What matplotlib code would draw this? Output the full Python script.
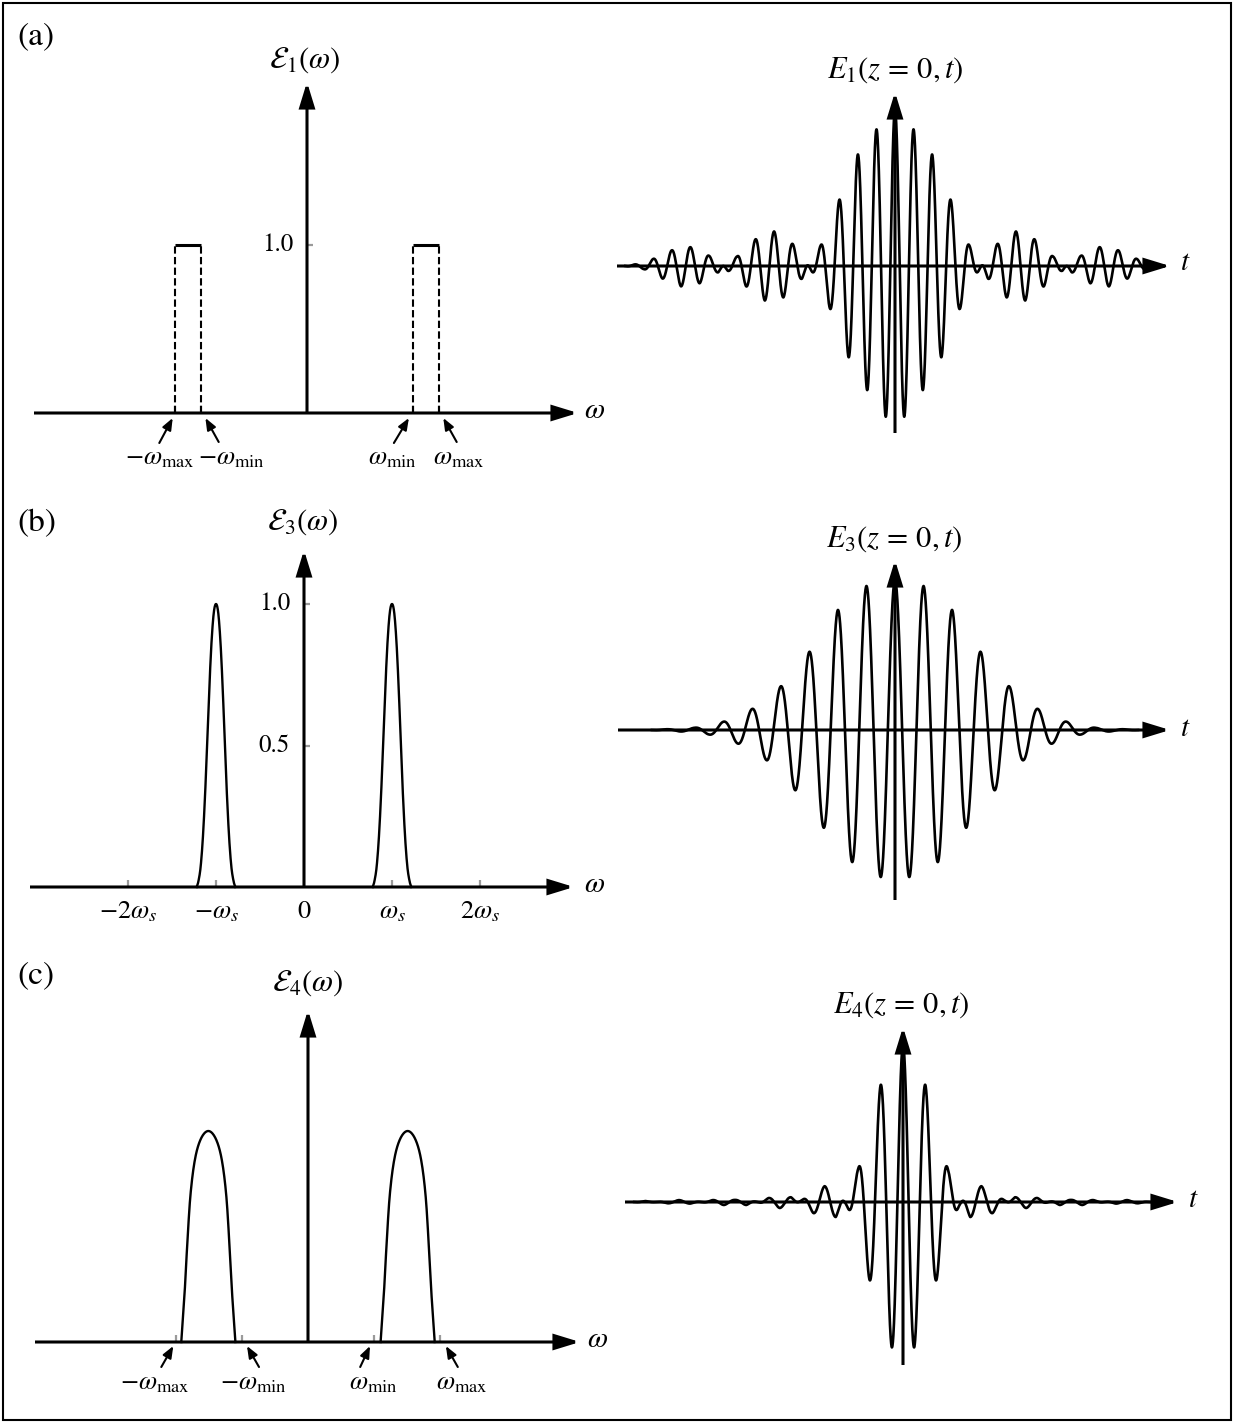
import numpy as np
import matplotlib
matplotlib.use("Agg")
import matplotlib.pyplot as plt
from matplotlib.patches import FancyArrowPatch, Rectangle, ArrowStyle
from matplotlib.transforms import ScaledTranslation

plt.rcParams["mathtext.fontset"] = "stix"
plt.rcParams["font.family"] = ["STIXGeneral", "DejaVu Serif"]

# ======================= data =======================
# (a) flat-top band spectrum, frequency in units of omega_max
a_band = [0.8, 1.0]                      # omega_min, omega_max
a_level = 1.0
a_ticks = [-1.0, -0.8, 0.8, 1.0]
a_tick_labels = [r"$-\omega_{\max}$", r"$-\omega_{\min}$", r"$\omega_{\min}$", r"$\omega_{\max}$"]
a_yticks = [1.0]
a_ytick_labels = ["1.0"]
# signed envelope of E1(z=0,t) at successive half-periods from t = 0
a_env = [1.0, 0.96, 0.87, 0.79, 0.71, 0.58, 0.42, 0.27, 0.13, 0.03,
         -0.08, -0.14, -0.20, -0.22, -0.22, -0.17, -0.13, -0.06, -0.03, 0.04,
         0.065, 0.11, 0.12, 0.13, 0.10, 0.08, 0.045, 0.02, 0.01, 0.0]

# (b) narrow peaks at +-omega_s, frequency in units of omega_s
b_centers = [-1.0, 1.0]
b_offsets = [0.0, 0.025, 0.05, 0.075, 0.10, 0.125, 0.15, 0.175, 0.20, 0.22]
b_values = [1.0, 0.97, 0.87, 0.71, 0.51, 0.32, 0.17, 0.07, 0.02, 0.0]
b_ticks = [-2, -1, 0, 1, 2]
b_tick_labels = [r"$-2\omega_s$", r"$-\omega_s$", "0", r"$\omega_s$", r"$2\omega_s$"]
b_yticks = [0.5, 1.0]
b_ytick_labels = ["0.5", "1.0"]
b_env = [1.0, 0.98, 0.96, 0.88, 0.80, 0.65, 0.52, 0.40, 0.29, 0.20,
         0.14, 0.09, 0.055, 0.03, 0.015, 0.01, 0.005, 0.0]

# (c) rounded band spectrum, frequency in units of omega_max
c_centers = [-0.755, 0.755]
c_offsets = [0.0, 0.055, 0.10, 0.135, 0.16, 0.18, 0.205]
c_values = [1.0, 0.965, 0.87, 0.70, 0.46, 0.23, 0.0]
c_ticks = [-1.0, -0.5, 0.5, 1.0]
c_tick_labels = [r"$-\omega_{\max}$", r"$-\omega_{\min}$", r"$\omega_{\min}$", r"$\omega_{\max}$"]
c_env = [1.0, 0.92, 0.74, 0.49, 0.21, 0.025, -0.095, -0.10, -0.07, -0.013,
         0.03, 0.038, 0.025, 0.0, -0.019, -0.013, -0.019, -0.012, 0.0, 0.01,
         0.012, 0.008, 0.0, -0.006, 0.0]

# ======================= layout (pixels) =======================
W, H = 1234, 1423
fig = plt.figure(figsize=(W / 100, H / 100), dpi=100)

FS_PANEL = 24
FS_LAB = 22
FS_TICK = 19
FS_NUM = 18
FS_AX = 21
LW_AX = 2.2


class Panel:
    def __init__(self, box, origin, scale):
        L, T, R, B = box
        self.ax = fig.add_axes([L / W, 1 - B / H, (R - L) / W, (B - T) / H])
        self.x0, self.y0 = origin
        self.sx, self.sy = scale
        self.ax.set_xlim((L - self.x0) / self.sx, (R - self.x0) / self.sx)
        self.ax.set_ylim((self.y0 - B) / self.sy, (self.y0 - T) / self.sy)
        self.ax.axis("off")

    def X(self, px):
        return (px - self.x0) / self.sx

    def Y(self, py):
        return (self.y0 - py) / self.sy

    def off(self, dx, dy):
        return self.ax.transData + ScaledTranslation(dx / 100, -dy / 100, fig.dpi_scale_trans)


def arrow(ax, p0, p1, lw=LW_AX, hl=15, hw=4.6):
    ax.add_patch(FancyArrowPatch(p0, p1, arrowstyle=ArrowStyle("-|>", head_length=hl, head_width=hw),
                                 mutation_scale=1, lw=lw, color="black", shrinkA=0, shrinkB=0,
                                 zorder=4, clip_on=False, joinstyle="miter", capstyle="butt"))


def catmull(xs, ys, n=16):
    P = np.column_stack([xs, ys]).astype(float)
    P = np.vstack([2 * P[0] - P[1], P, 2 * P[-1] - P[-2]])
    s = np.linspace(0, 1, n, endpoint=False)[:, None]
    segs = []
    for i in range(1, len(P) - 2):
        p0, p1, p2, p3 = P[i - 1], P[i], P[i + 1], P[i + 2]
        segs.append(0.5 * (2 * p1 + (p2 - p0) * s + (2 * p0 - 5 * p1 + 4 * p2 - p3) * s ** 2
                           + (3 * p1 - p0 - 3 * p2 + p3) * s ** 3))
    segs.append(P[-2][None, :])
    out = np.vstack(segs)
    return out[:, 0], out[:, 1]


def draw_peaks(P, centers, offsets, values, lw=1.7):
    off = np.asarray(offsets)
    val = np.asarray(values)
    full_off = np.concatenate([-off[::-1], off[1:]])
    full_val = np.concatenate([val[::-1], val[1:]])
    for c in centers:
        x, y = catmull(c + full_off, full_val)
        P.ax.plot(x, np.clip(y, 0, None), color="black", lw=lw, zorder=3)


def draw_wave(P, env, lw=1.9):
    k = np.arange(len(env))
    span = k[-1]
    t = np.linspace(-span, span, 8000)
    e = np.interp(np.abs(t), k, env)
    P.ax.plot(t, e * np.cos(np.pi * t), color="black", lw=lw, zorder=3)


def gray_xticks(P, vals, length_px=7):
    for v in vals:
        if v != 0:
            P.ax.plot([v, v], [0, length_px / P.sy], color="#9a9a9a", lw=1.6, zorder=2,
                      solid_capstyle="butt")


def gray_yticks(P, vals, length_px=6):
    for v in vals:
        P.ax.plot([0, length_px / P.sx], [v, v], color="#9a9a9a", lw=1.6, zorder=2,
                  solid_capstyle="butt")


def ytick_labels(P, vals, labels, dx=-14):
    for v, s in zip(vals, labels):
        P.ax.text(0, v, s, transform=P.off(dx, 0), ha="right", va="center", fontsize=FS_NUM)


def xtick_labels(P, vals, labels, dy=25):
    for v, s in zip(vals, labels):
        P.ax.text(v, 0, s, transform=P.off(0, dy), ha="center", va="center", fontsize=FS_TICK)


def arrow_labels(P, vals, labels, lab_off, tail_off, tip_off):
    for v, s, lo, ta, ti in zip(vals, labels, lab_off, tail_off, tip_off):
        P.ax.annotate("", xy=(v, 0), xycoords=P.off(*ti), xytext=(v, 0), textcoords=P.off(*ta),
                      arrowprops=dict(arrowstyle=ArrowStyle("-|>", head_length=7, head_width=2.8),
                                      mutation_scale=1, lw=1.5, color="black",
                                      shrinkA=0, shrinkB=0))
        P.ax.text(v, 0, s, transform=P.off(*lo), ha="center", va="center", fontsize=FS_TICK)


def ftext(x, y, s, fs, **kw):
    fig.text(x / W, 1 - y / H, s, ha="center", va="center", fontsize=fs, **kw)


# ---------------- (a) left: band spectrum ----------------
A = Panel((8, 8, 615, 482), (307, 413), (132, 168))
arrow(A.ax, (A.X(34), 0), (A.X(578), 0))
arrow(A.ax, (0, 0), (0, A.Y(82)))
for s in (-1, 1):
    lo, hi = sorted([s * a_band[0], s * a_band[1]])
    for xv in (lo, hi):
        A.ax.plot([xv, xv], [0, a_level], color="black", lw=1.5, dashes=(3.5, 1.6), zorder=3)
    A.ax.plot([lo, hi], [a_level, a_level], color="black", lw=2.2, zorder=3, solid_capstyle="butt")
gray_xticks(A, a_ticks)
gray_yticks(A, a_yticks)
ytick_labels(A, a_yticks, a_ytick_labels)
arrow_labels(A, a_ticks, a_tick_labels,
             [(-15, 45), (30, 45), (-20, 45), (20, 45)],
             [(-15.7, 30), (17.3, 29), (-18.7, 30), (17.7, 29)],
             [(-2.3, 5), (4, 5), (-3.7, 5), (4.3, 5)])
ftext(36, 37, "(a)", FS_PANEL)
ftext(305, 60, r"$\mathcal{E}_1(\omega)$", FS_LAB)
ftext(595, 411, r"$\omega$", FS_AX)

# ---------------- (a) right: time signal ----------------
AR = Panel((615, 8, 1228, 482), (895, 266), (9.3, 157))
draw_wave(AR, a_env)
arrow(AR.ax, (AR.X(617), 0), (AR.X(1170), 0))
arrow(AR.ax, (0, AR.Y(433)), (0, AR.Y(92)))
ftext(895, 70, r"$E_1(z\,=\,0,t)$", FS_LAB)
ftext(1185, 263, r"$t$", FS_AX)

# ---------------- (b) left: narrow peaks ----------------
B = Panel((8, 488, 615, 948), (304, 887), (88, 283))
draw_peaks(B, b_centers, b_offsets, b_values)
arrow(B.ax, (B.X(30), 0), (B.X(574), 0))
arrow(B.ax, (0, 0), (0, B.Y(550)))
gray_xticks(B, b_ticks)
gray_yticks(B, b_yticks)
ytick_labels(B, b_yticks, b_ytick_labels)
xtick_labels(B, b_ticks, b_tick_labels)
ftext(37, 524, "(b)", FS_PANEL)
ftext(303, 522, r"$\mathcal{E}_3(\omega)$", FS_LAB)
ftext(595, 885, r"$\omega$", FS_AX)

# ---------------- (b) right ----------------
BR = Panel((615, 488, 1228, 948), (895, 730), (14.3, 150))
draw_wave(BR, b_env)
arrow(BR.ax, (BR.X(618), 0), (BR.X(1170), 0))
arrow(BR.ax, (0, BR.Y(900)), (0, BR.Y(560)))
ftext(894, 539, r"$E_3(z\,=\,0,t)$", FS_LAB)
ftext(1185, 729, r"$t$", FS_AX)

# ---------------- (c) left: rounded band ----------------
C = Panel((8, 950, 615, 1415), (308, 1342), (132, 211))
draw_peaks(C, c_centers, c_offsets, c_values)
arrow(C.ax, (C.X(35), 0), (C.X(580), 0))
arrow(C.ax, (0, 0), (0, C.Y(1010)))
gray_xticks(C, c_ticks)
arrow_labels(C, c_ticks, c_tick_labels,
             [(-20.7, 41), (11, 41), (-0.8, 41), (21.8, 41)],
             [(-14.7, 25), (17, 25), (-13.8, 25), (17.8, 25)],
             [(-2.7, 4), (5, 4), (-4, 4), (5.9, 4)])
ftext(36, 976, "(c)", FS_PANEL)
ftext(308, 983, r"$\mathcal{E}_4(\omega)$", FS_LAB)
ftext(598, 1340, r"$\omega$", FS_AX)

# ---------------- (c) right ----------------
CR = Panel((615, 950, 1228, 1415), (903, 1202), (11.2, 158))
draw_wave(CR, c_env)
arrow(CR.ax, (CR.X(625), 0), (CR.X(1178), 0))
arrow(CR.ax, (0, CR.Y(1365)), (0, CR.Y(1027)))
ftext(901, 1005, r"$E_4(z\,=\,0,t)$", FS_LAB)
ftext(1193, 1200, r"$t$", FS_AX)

# outer frame
fig.patches.append(Rectangle((3 / W, 3 / H), (W - 6) / W, (H - 6) / H, transform=fig.transFigure,
                             fill=False, lw=1.5, ec="black"))

fig.savefig("out.png", dpi=100)
